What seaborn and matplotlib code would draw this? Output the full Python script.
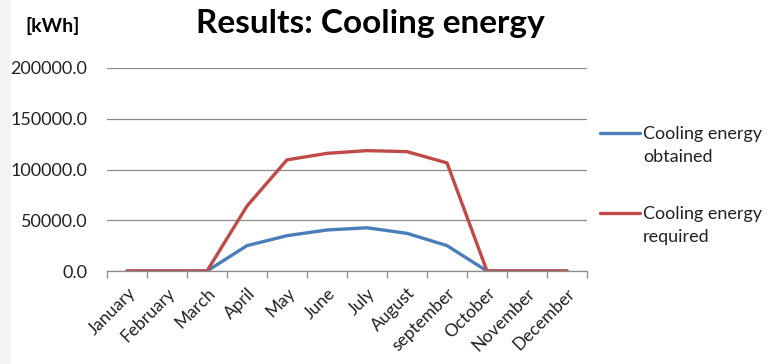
import matplotlib
matplotlib.use("Agg")
import matplotlib.pyplot as plt
import seaborn as sns
import pandas as pd
import numpy as np
from matplotlib.ticker import MultipleLocator, FixedLocator, FuncFormatter
from matplotlib.patches import Rectangle

months = ["January", "February", "March", "April", "May", "June", "July",
          "August", "september", "October", "November", "December"]
obtained = [0, 0, 0, 25000, 34800, 40400, 42600, 37100, 25000, 0, 0, 0]
required = [0, 0, 0, 64000, 109500, 115900, 118600, 117600, 106500, 0, 0, 0]
series_names = ["Cooling energy\nobtained", "Cooling energy\nrequired"]
colors = ["#4a7ebb", "#be4b48"]

df = pd.DataFrame({
    "month": months * 2,
    "value": obtained + required,
    "series": [series_names[0]] * len(months) + [series_names[1]] * len(months),
})

sns.set_theme(style="white")
plt.rcParams["font.family"] = ["Lato", "DejaVu Sans"]

fig = plt.figure(figsize=(7.81, 3.64), dpi=100)
fig.patches.append(Rectangle((0, 0), 11 / 781, 1, transform=fig.transFigure,
                             facecolor="#f3f3f3", edgecolor="none", zorder=0))
ax = fig.add_axes([107 / 781, 1 - 271 / 364, 480 / 781, 203 / 364])

sns.lineplot(data=df, x="month", y="value", hue="series", sort=False,
             palette=colors, linewidth=2.4, ax=ax, legend=False)

ax.set_xlim(-0.5, len(months) - 0.5)
ax.set_ylim(0, 200000)
ax.yaxis.set_major_locator(MultipleLocator(50000))
ax.yaxis.set_major_formatter(FuncFormatter(lambda v, p: f"{v:.1f}"))
ax.grid(axis="y", color="#8c8c8c", linewidth=0.9)
ax.set_axisbelow(True)
for s in ["top", "right", "left"]:
    ax.spines[s].set_visible(False)
ax.spines["bottom"].set_color("#8c8c8c")
ax.spines["bottom"].set_linewidth(0.9)

ax.set_xticks(range(len(months)))
ax.set_xticklabels(months, rotation=45, ha="right", va="top",
                   rotation_mode="anchor", fontsize=12.5, color="#222222")
ax.tick_params(axis="x", which="major", length=0, pad=10)
ax.xaxis.set_minor_locator(FixedLocator(np.arange(-0.5, len(months), 1.0)))
ax.tick_params(axis="x", which="minor", length=5, color="#8c8c8c", width=0.9,
               direction="out", bottom=True)
ax.tick_params(axis="y", length=0, pad=14, labelsize=13, labelcolor="#222222")
ax.set_xlabel("")
ax.set_ylabel("")

fig.text(370 / 781, 1 - 23 / 364, "Results: Cooling energy", ha="center",
         va="center", fontsize=24, fontweight="bold", color="black")
fig.text(53 / 781, 1 - 26 / 364, "[kWh]", ha="center", va="center",
         fontsize=14, fontweight="bold", color="black")

# legend drawn beside the plot
for i, (name, c) in enumerate(zip(series_names, colors)):
    y0 = [133, 213][i]
    fig.add_artist(plt.Line2D([600 / 781, 640 / 781], [1 - y0 / 364] * 2,
                              transform=fig.transFigure, color=c, linewidth=2.4))
    fig.text(643 / 781, 1 - (y0 - 7) / 364, name, ha="left", va="top",
             fontsize=13, color="#222222", linespacing=1.55)

fig.savefig("out.png", dpi=100)
